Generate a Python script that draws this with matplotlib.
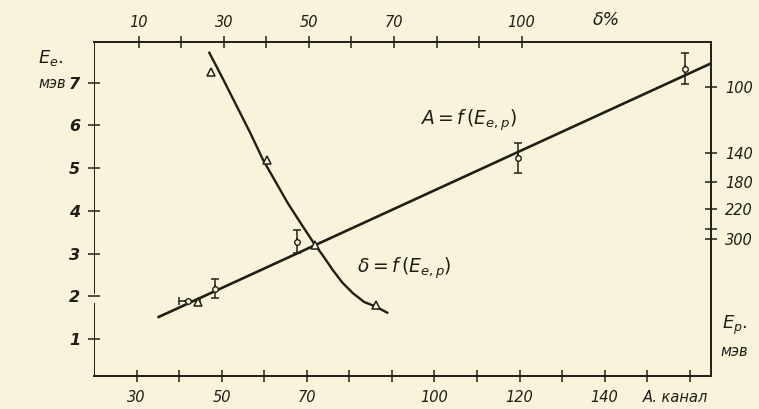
import numpy as np
import matplotlib
matplotlib.use('Agg')
import matplotlib.pyplot as plt

# A = f(E) straight line (channel A vs E, MeV)
line_A = [35.2, 165.0]
line_E = [1.52, 7.45]

# measured points with error bars
pts_A = [42.2, 48.5, 67.6, 119.7, 158.9]
pts_E = [1.90, 2.18, 3.28, 5.24, 7.33]
pts_Eerr = [0.0, 0.22, 0.27, 0.35, 0.37]
pts_Aerr_lo = [2.3, 0, 0, 0, 0]
pts_Aerr_hi = [2.8, 0, 0, 0, 0]

# extra triangle near first point (A scale)
tri_A = [44.4]
tri_E = [1.88]

# delta = f(E) curve (top scale, %)
curve_d = [26.6, 29.9, 33.1, 36.2, 39.2, 45.0, 48.3, 51.4, 53.2, 55.6, 57.9, 60.3, 63.0, 65.8, 68.4]
curve_E = [7.70, 7.07, 6.44, 5.83, 5.20, 4.19, 3.68, 3.21, 2.97, 2.62, 2.32, 2.08, 1.87, 1.76, 1.62]
tri_d = [26.9, 40.1, 51.4, 65.8]
tri_dE = [7.24, 5.18, 3.21, 1.80]

# right axis: Ep ticks (MeV) placed on the Ee scale
ep_pos = [6.89, 5.36, 4.68, 4.05, 3.58, 3.35]
ep_lab = ['100', '140', '180', '220', '', '300']

bottom_ticks = list(range(30, 170, 10))
bottom_labels = ['30', '', '50', '', '70', '', '', '100', '', '120', '', '140', '', '']
top_ticks = list(range(10, 110, 10))
top_labels = ['10', '', '30', '', '50', '', '70', '', '', '100']

bg = '#f8f4dc'
ink = '#221e16'
fnt = dict(fontstyle='italic', fontsize=10.5, color=ink)

plt.rcParams['mathtext.fontset'] = 'dejavusans'

fig = plt.figure(figsize=(7.59, 4.09), dpi=100, facecolor=bg)
ax = fig.add_axes([0.1238, 0.0807, 0.8130, 0.8166])
ax.set_facecolor(bg)
ax.set_xlim(20, 165)
ax.set_ylim(0.14, 7.95)

ax.plot(line_A, line_E, color=ink, lw=1.9)
ax.errorbar(pts_A, pts_E, yerr=pts_Eerr, xerr=[pts_Aerr_lo, pts_Aerr_hi],
            fmt='o', ms=4, mfc=bg, mec=ink, ecolor=ink, elinewidth=1.1,
            capsize=3, capthick=1.1, zorder=3)
ax.plot(tri_A, tri_E, '^', ms=6, mfc=bg, mec=ink, mew=1.1, zorder=3)

for s in ax.spines.values():
    s.set_color(ink)
    s.set_linewidth(1.4)
ax.spines['left'].set_visible(False)
ax.axvline(20, 0.0, (1.83 - 0.14) / 7.81, color=ink, lw=1.4)
ax.axvline(20, (2.08 - 0.14) / 7.81, 1.0, color=ink, lw=1.4)

ax.set_xticks(bottom_ticks)
ax.set_xticklabels(bottom_labels)
ax.set_yticks(range(1, 8))
ax.set_yticklabels([str(v) for v in range(1, 8)])
ax.tick_params(direction='inout', length=8, width=1.1, color=ink, pad=6)
for t in ax.get_xticklabels() + ax.get_yticklabels():
    t.set_fontstyle('italic')
    t.set_fontsize(10.5)
    t.set_color(ink)
for t in ax.get_yticklabels():
    t.set_fontweight('bold')
    t.set_fontsize(11.5)

axt = ax.twiny()
axt.set_xlim(-0.5, 144.5)
axt.plot(curve_d, curve_E, color=ink, lw=1.7, solid_joinstyle='round')
axt.plot(tri_d, tri_dE, '^', ms=6, mfc=bg, mec=ink, mew=1.1, zorder=3)
axt.set_xticks(top_ticks)
axt.set_xticklabels(top_labels)
axt.tick_params(direction='inout', length=8, width=1.1, color=ink, pad=5)
for s in axt.spines.values():
    s.set_visible(False)
for t in axt.get_xticklabels():
    t.set_fontstyle('italic')
    t.set_fontsize(10.5)
    t.set_color(ink)

axr = ax.twinx()
axr.set_ylim(ax.get_ylim())
axr.set_yticks(ep_pos)
axr.set_yticklabels(ep_lab)
axr.tick_params(direction='inout', length=8, width=1.1, color=ink, pad=6)
for s in axr.spines.values():
    s.set_visible(False)
for t in axr.get_yticklabels():
    t.set_fontstyle('italic')
    t.set_fontsize(10.5)
    t.set_color(ink)

fig.text(38 / 759, 1 - 58 / 409, r'$E_e$.', fontsize=13, color=ink, va='center')
fig.text(38 / 759, 1 - 83 / 409, 'мэв', va='center', **fnt)
fig.text(722 / 759, 1 - 325 / 409, r'$E_p$.', fontsize=13, color=ink, va='center')
fig.text(720 / 759, 1 - 352 / 409, 'мэв', va='center', **fnt)
fig.text(606 / 759, 1 - 20 / 409, 'δ%', ha='center', va='center',
         fontstyle='italic', fontsize=12.5, color=ink)
fig.text(675 / 759, 1 - 397 / 409, 'A. канал', ha='center', va='center', **fnt)
fig.text(420 / 759, 1 - 120 / 409, r'$A = f\,(E_{e,p})$', fontsize=13.5, color=ink, va='center')
fig.text(357 / 759, 1 - 268 / 409, r'$\delta = f\,(E_{e,p})$', fontsize=13.5, color=ink, va='center')

fig.savefig('out.png', dpi=100, facecolor=bg)
